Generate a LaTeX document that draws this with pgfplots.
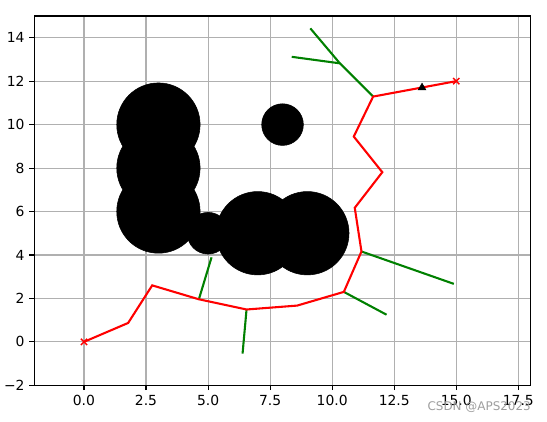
\documentclass[border=0pt]{standalone}
\usepackage{fontspec}
\setmainfont{DejaVu Sans}
\usepackage{pgfplots}
\pgfplotsset{compat=1.18}
\definecolor{mplred}{rgb}{1,0,0}
\definecolor{mplgreen}{rgb}{0,0.5,0}
\definecolor{gridgray}{HTML}{B0B0B0}

\begin{document}
\begin{tikzpicture}
\begin{axis}[
  at={(0,0)}, anchor=south west,
  scale only axis, width=357.4pt, height=265.9pt,
  xmin=-2, xmax=18, ymin=-2, ymax=15,
  xtick={0,2.5,...,17.5}, xticklabels={0.0,2.5,5.0,7.5,10.0,12.5,15.0,17.5},
  ytick={-2,0,...,14}, yticklabels={−2,0,2,4,6,8,10,12,14},
  tick pos=left, tick align=outside, major tick length=3.5pt,
  grid=major, grid style={gridgray, line width=0.8pt},
  axis line style={line width=0.8pt},
  tick style={black, line width=0.8pt},
  ticklabel style={font=\fontsize{10}{12}\selectfont},
]
% random sample
\addplot[only marks, mark=triangle*, mark size=3.2pt, black] coordinates {(13.62,11.7)};
% tree edges
\addplot[mplgreen, line width=1.5pt] coordinates {(4.63,1.96) (5.14,3.89)};
\addplot[mplgreen, line width=1.5pt] coordinates {(6.55,1.49) (6.39,-0.54)};
\addplot[mplgreen, line width=1.5pt] coordinates {(10.47,2.30) (12.19,1.25)};
\addplot[mplgreen, line width=1.5pt] coordinates {(11.18,4.16) (14.90,2.67)};
\addplot[mplgreen, line width=1.5pt] coordinates {(11.65,11.29) (10.31,12.82) (9.12,14.43)};
\addplot[mplgreen, line width=1.5pt] coordinates {(10.31,12.82) (8.37,13.12)};
% obstacles
\addplot[only marks, mark=*, mark size=15pt, black] coordinates {(5,5) (8,10)};
\addplot[only marks, mark=*, mark size=30pt, black] coordinates {(3,6) (3,8) (3,10) (7,5) (9,5)};
% start and goal
\addplot[only marks, mark=x, mark size=3.2pt, mplred, mark options={line width=1pt}] coordinates {(0,0) (15,12)};
% final path
\addplot[mplred, line width=1.5pt] coordinates {
(0,0) (1.78,0.87) (2.75,2.60) (4.63,1.96) (6.55,1.49) (8.59,1.67) (10.47,2.30)
(11.18,4.16) (10.91,6.17) (12.02,7.81) (10.87,9.45) (11.65,11.29) (15,12)};
\end{axis}
\node[anchor=east, inner sep=0pt, text=black!38, font=\fontsize{8.6}{10}\selectfont] at (357.6pt,-15.6pt) {CSDN @APS2023};
\pgfresetboundingbox
\path[use as bounding box] (-24.7pt,-25.7pt) rectangle (369.1pt,277.4pt);
\end{tikzpicture}
\end{document}
